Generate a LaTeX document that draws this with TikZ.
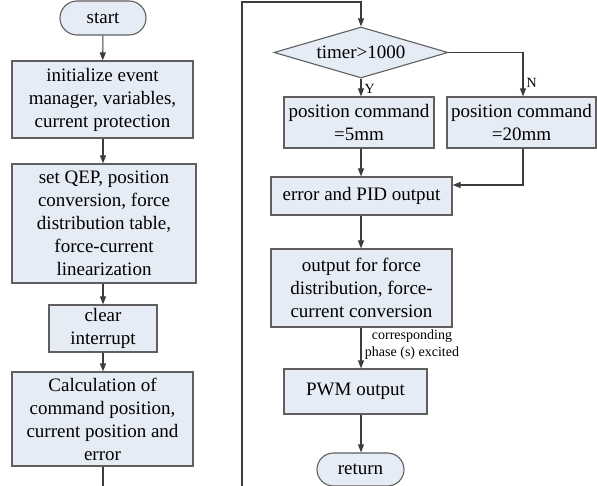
\documentclass[tikz,border=0pt]{standalone}
\usepackage{fontspec}
\setmainfont{Liberation Serif}
\usetikzlibrary{shapes.misc,shapes.geometric,arrows.meta}
\definecolor{boxfill}{RGB}{230,236,246}
\definecolor{boxline}{RGB}{95,95,95}
\definecolor{conn}{RGB}{60,60,60}
\tikzset{
  base/.style={draw=boxline, fill=boxfill, line width=1.1pt, inner sep=0pt, align=center,
    font=\fontsize{19}{23}\selectfont},
  procbox/.style={base, rectangle},
  term/.style={base, rounded rectangle},
  decide/.style={base, diamond, aspect=3.41},
  conn/.style={draw=conn, line width=1.1pt},
  arr/.style={conn, -{Triangle[length=8pt,width=6pt]}},
  lbl/.style={font=\fontsize{14}{17}\selectfont, inner sep=0pt, align=center}
}
\begin{document}
\begin{tikzpicture}[x=1pt,y=-1pt]
\useasboundingbox (0,0) rectangle (597,486);
% left column
\node[term, minimum width=86pt, minimum height=34pt] (start) at (103,18) {start};
\node[procbox, minimum width=181pt, minimum height=77pt] (init) at (102.5,99.5)
  {initialize event\\manager, variables,\\current protection};
\node[procbox, minimum width=184pt, minimum height=119pt] (qep) at (104,223.5)
  {set QEP, position\\conversion, force\\distribution table,\\force-current\\linearization};
\node[procbox, minimum width=108pt, minimum height=47pt] (clr) at (103,328.5)
  {clear\\interrupt};
\node[procbox, minimum width=181pt, minimum height=94pt] (calc) at (102.5,419)
  {Calculation of\\command position,\\current position and\\error};
\coordinate (lend) at (103,486);
% right column
\coordinate (rb) at (242,486);
\coordinate (rt) at (242,2);
\coordinate (rtr) at (361,2);
\node[decide, minimum width=174pt, minimum height=51pt] (dia) at (361,52.5) {timer>1000};
\node[procbox, minimum width=150pt, minimum height=51pt] (p5) at (359,122.5)
  {position command\\=5mm};
\node[procbox, minimum width=149pt, minimum height=51pt] (p20) at (521.5,122.5)
  {position command\\=20mm};
\node[procbox, minimum width=181pt, minimum height=38pt] (err) at (361.5,196)
  {error and PID output};
\node[procbox, minimum width=181pt, minimum height=78pt] (out) at (361.5,288)
  {output for force\\distribution, force-\\current conversion};
\node[procbox, minimum width=143pt, minimum height=45pt] (pwm) at (355.5,391.5)
  {PWM output};
\node[term, minimum width=87pt, minimum height=33pt] (ret) at (360.5,469.5) {return};
\coordinate (ncorner) at (523,52.5);
\coordinate (nb) at (523,185);
% connectors left
\draw[arr] (start) -- (init);
\draw[arr] (init.south -| start) -- (qep.north -| start);
\draw[arr] (qep.south -| start) -- (clr.north -| start);
\draw[arr] (clr.south -| start) -- (calc.north -| start);
\draw[conn] (calc.south -| start) -- (lend);
% connectors right
\draw[arr] (rb) -- (rt) -- (rtr) -- (dia.north);
\draw[arr] (dia.south) -- (p5.north -| dia.south) node[lbl, pos=0.6, right=3pt] {Y};
\draw[arr] (dia.east) -- (ncorner) -- (p20.north -| ncorner) node[lbl, pos=0.7, right=3pt] {N};
\draw[arr] (p5.south -| dia.south) -- (err.north -| dia.south);
\draw[arr] (p20.south -| ncorner) -- (nb) -- (err.east |- nb);
\draw[arr] (err.south -| dia.south) -- (out.north -| dia.south);
\draw[arr] (out.south -| dia.south) -- (pwm.north -| dia.south);
\node[lbl] (ph) at (412,344.5) {corresponding\\phase (s) excited};
\draw[arr] (pwm.south -| dia.south) -- (ret.north -| dia.south);
\end{tikzpicture}
\end{document}
